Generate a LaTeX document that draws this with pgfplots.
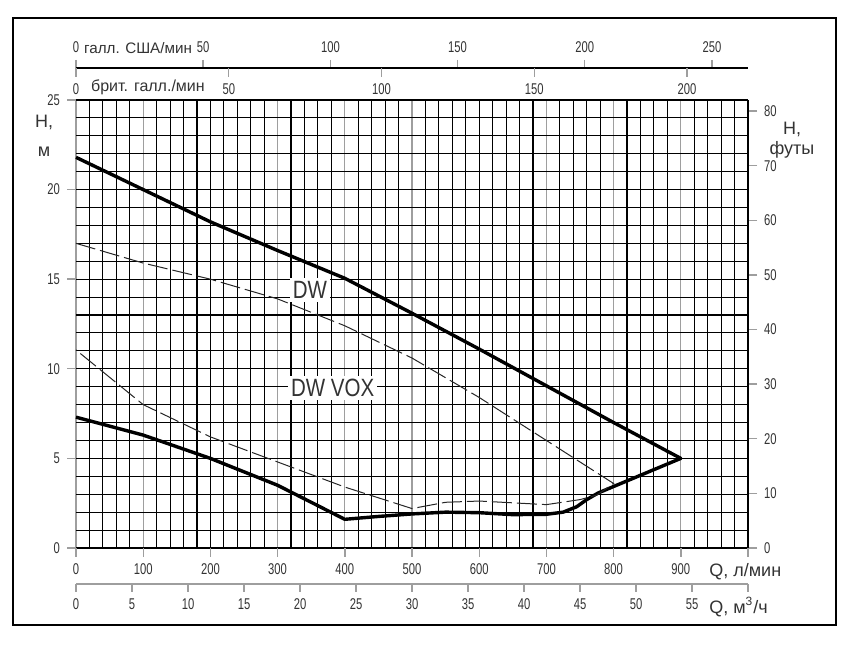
\documentclass[border=0pt]{standalone}
\usepackage{pgfplots}
\pgfplotsset{compat=1.18}
\usepackage{fontspec}
\setmainfont{Liberation Sans}
\newfontfamily\tickfont{Liberation Sans}[FakeStretch=0.72]
\newfontfamily\condfont{Liberation Sans}[FakeStretch=0.82]
\definecolor{txt}{gray}{0.2}
\definecolor{gridgray}{gray}{0.62}
\begin{document}
\begin{tikzpicture}
\pgfplotsset{
  base/.style={scale only axis, width=336pt, xmin=0, clip=false,
    /pgf/number format/assume math mode=true,
    tick label style={font=\tickfont\fontsize{7.8}{8}\selectfont, text=txt},
    tick align=outside,
    tick style={gridgray, line width=0.7pt},
  },
}
% main axis: Q l/min vs H m
\begin{axis}[base, at={(0,0)}, anchor=south west, height=224pt,
  xmax=1000, ymin=0, ymax=25,
  axis line style={draw=none},
  xtick={0,100,...,1000},
  xticklabels={0,100,200,300,400,500,600,700,800,900,{}},
  minor xtick={20,40,...,980},
  ytick={0,5,...,25},
  minor ytick={1,2,...,24},
  xtick pos=bottom, ytick pos=left,
  major tick length=4.5pt, minor tick length=0pt,
  grid=both,
  major x grid style={gridgray, line width=0.6pt},
  major y grid style={black, line width=0.55pt},
  minor grid style={black, line width=0.55pt},
  extra x ticks={200,600},
  extra x tick labels={},
  extra x tick style={grid=major, major x grid style={black, line width=0.55pt}, major tick length=0pt},
]
% DW envelope
\addplot[black, line width=1.7pt, line join=round] coordinates {
(0,21.8) (100,20.0) (200,18.2) (300,16.6) (400,15.05) (500,13.1) (600,11.1)
(700,9.05) (800,7.0) (900,5.0)
(777,3.07) (760,2.7) (745,2.3) (725,2.0) (700,1.88) (650,1.86) (600,1.97)
(550,2.0) (500,1.9) (450,1.76) (400,1.6)
(300,3.5) (200,5.0) (100,6.3) (0,7.3)
};
% DW VOX envelope
\addplot[black!85, line width=0.5pt, dash pattern=on 10pt off 2.5pt] coordinates {
(0,17.0) (100,15.9) (200,15.0) (300,13.9) (400,12.4) (500,10.6) (600,8.4)
(700,6.0) (750,4.8) (800,3.6)
(775,2.95) (750,2.7) (700,2.42) (650,2.52) (600,2.62) (550,2.55) (500,2.2)
(400,3.4) (300,4.8) (200,6.2) (100,8.0) (0,11.05)
};
\node[fill=white, inner sep=1.5pt, text=txt, font=\condfont\fontsize{12.5}{13}\selectfont] at (axis cs:348,14.4) {DW};
\node[fill=white, inner sep=1.5pt, text=txt, font=\condfont\fontsize{12.5}{13}\selectfont] at (axis cs:382,8.93) {DW VOX};
% axis titles
\node[text=txt, font=\fontsize{9}{10}\selectfont] at (axis cs:-47.6,23.77) {H,};
\node[text=txt, font=\fontsize{9}{10}\selectfont, anchor=base] at (axis cs:-47.6,21.85) {м};
\node[text=txt, font=\fontsize{9}{10}\selectfont] at (axis cs:1065.5,23.35) {H,};
\node[text=txt, font=\fontsize{9}{10}\selectfont, anchor=base] at (axis cs:1065.5,21.95) {футы};
\node[text=txt, font=\fontsize{9}{10}\selectfont, anchor=west, inner sep=0pt] at (axis cs:941.9,-1.34) {Q, л/мин};
\node[text=txt, font=\fontsize{9}{10}\selectfont, anchor=west, inner sep=0pt] at (axis cs:941.9,-3.29) {Q, м\textsuperscript{3}/ч};
\node[text=txt, font=\fontsize{7.6}{8}\selectfont] at (axis cs:92.3,27.9) {галл. США/мин};
\node[text=txt, font=\fontsize{8}{9}\selectfont] at (axis cs:107,25.73) {брит. галл./мин};
% frame
\draw[black, line width=0.6pt] (axis cs:-93.75,-4.297) rectangle (axis cs:1130.95,29.576);
\coordinate (bbBL) at (axis cs:-113.1,-5.469);
\coordinate (bbTR) at (axis cs:1162.2,30.58);
\end{axis}
% right axis: feet
\begin{axis}[base, at={(0,0)}, anchor=south west, height=224pt,
  xmax=1000, ymin=0, ymax=82.021,
  hide x axis, axis y line*=right,
  axis line style={black, line width=0.7pt},
  ytick={0,10,...,80},
  major tick length=4.5pt,
]
\end{axis}
% bottom axis: m3/h
\begin{axis}[base, at={(0,-18pt)}, anchor=south west, height=10pt,
  xmax=60, ymin=0, ymax=1,
  hide y axis, axis x line*=bottom,
  axis line style={gridgray, line width=0.9pt},
  xtick={0,5,...,60},
  xticklabels={0,5,10,15,20,25,30,35,40,45,50,55,{}},
  major tick length=4pt,
]
\end{axis}
% top axis: US gal/min
\begin{axis}[base, at={(0,240pt)}, anchor=north west, height=10pt,
  xmax=264.172, ymin=0, ymax=1,
  hide y axis, axis x line*=top,
  axis line style={black, line width=0.7pt},
  xtick={0,50,...,250},
  major tick length=4pt,
]
\end{axis}
% top axis: UK gal/min
\begin{axis}[base, at={(0,240pt)}, anchor=south west, height=10pt,
  xmax=219.969, ymin=0, ymax=1,
  hide y axis, axis x line*=bottom,
  axis line style={draw=none},
  xtick={0,50,...,200},
  major tick length=4.5pt,
]
\end{axis}
\pgfresetboundingbox
\useasboundingbox (bbBL) rectangle (bbTR);
\end{tikzpicture}
\end{document}
